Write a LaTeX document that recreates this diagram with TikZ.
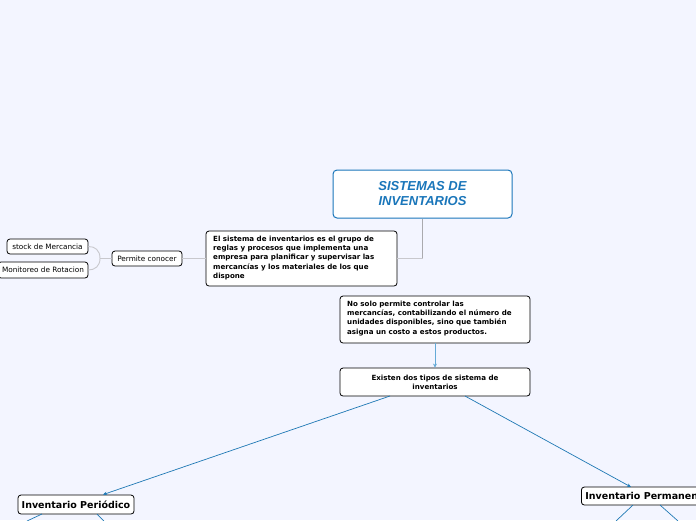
\documentclass[tikz,border=0pt]{standalone}
\usepackage{fontspec}
\setmainfont{DejaVu Sans}
\newfontfamily\titlefont{Liberation Sans}
\usetikzlibrary{arrows.meta}
\definecolor{bg}{RGB}{243,245,255}
\definecolor{mainblue}{RGB}{26,118,186}
\definecolor{linkblue}{RGB}{30,120,180}
\definecolor{arrowblue}{RGB}{100,170,215}
\definecolor{graylink}{RGB}{200,200,205}
\tikzset{
  box/.style={draw=black, fill=white, rounded corners=3pt, line width=0.8pt, inner sep=0pt},
  smalltxt/.style={font=\fontsize{7.1}{9.3}\selectfont\bfseries},
  leaftxt/.style={font=\fontsize{7.3}{8}\selectfont},
  bigtxt/.style={font=\fontsize{9.5}{11}\selectfont\bfseries},
  glink/.style={draw=graylink, line width=0.9pt},
  blink/.style={draw=linkblue, line width=0.7pt, -{Stealth[length=4pt,width=3.5pt]}},
  bline/.style={draw=linkblue, line width=0.7pt},
}
\begin{document}
\begin{tikzpicture}[x=1pt,y=-1pt]
\useasboundingbox (0,0) rectangle (696,520);
\fill[bg] (0,0) rectangle (696,520);
\clip (0,0) rectangle (696,520);

% main title
\node[draw=mainblue, fill=white, rounded corners=4pt, line width=1pt, minimum width=179pt, minimum height=48pt, align=center, text=mainblue, font=\titlefont\fontsize{13}{15}\selectfont\bfseries\itshape] (main) at (422.5,194) {SISTEMAS DE\\INVENTARIOS};

% description
\node[box, minimum width=191pt, minimum height=55pt] (desc) at (301.5,258.5) {};
\node[smalltxt, align=left, anchor=north west, inner sep=0pt] (desct) at (213,235.5) {El sistema de inventarios es el grupo de\\reglas y procesos que implementa una\\empresa para planificar y supervisar las\\mercancías y los materiales de los que\\dispone};

% permite conocer
\node[box, leaftxt, minimum width=70pt, minimum height=15pt] (perm) at (147,258.5) {Permite conocer};
\node[box, leaftxt, minimum width=81pt, minimum height=15pt] (stock) at (47.5,246.5) {stock de Mercancia};
\node[box, leaftxt, minimum width=90pt, minimum height=16pt] (moni) at (43,270) {Monitoreo de Rotacion};

% no solo
\node[box, minimum width=190pt, minimum height=47pt] (nosolo) at (435,319.5) {};
\node[smalltxt, align=left, anchor=north west, inner sep=0pt] (nosolot) at (347,300.5) {No solo permite controlar las\\mercancías, contabilizando el número de\\unidades disponibles, sino que también\\asigna un costo a estos productos.};

% existen
\node[box, smalltxt, align=center, minimum width=190pt, minimum height=28pt] (exist) at (435,382) {Existen dos tipos de sistema de\\inventarios};

% inventarios
\node[box, bigtxt, minimum width=116pt, minimum height=19pt] (peri) at (76,504.5) {Inventario Periódico};
\node[box, bigtxt, anchor=west, minimum height=18pt, inner xsep=4pt] (perma) at (581,496) {Inventario Permanente};

% connectors
\draw[draw=graylink!85!black, line width=1.8pt] (main.south) -- (main.south |- desc.east);
\draw[glink] (main.south |- desc.east) -- (desc.east);
\draw[glink] (desc.west) -- (perm.east);
\coordinate (pj) at (100,258.5);
\draw[glink] (perm.west) -- (pj) .. controls (100,250) and (95,246.5) .. (stock.east);
\draw[glink] (pj) .. controls (100,266) and (95,270) .. (moni.east);

\draw[draw=arrowblue, line width=1pt, -{Stealth[length=4pt,width=4pt]}] (nosolo.south) -- (exist.north);
\draw[blink] (390,396) -- (peri.north -| 103,0);
\draw[blink] (465,396) -- (631,487);

\coordinate (p1) at (27,521);
\coordinate (p2) at (104,521);
\coordinate (p3) at (616,521);
\coordinate (p4) at (678,521);
\draw[bline] (42,514) -- (p1);
\draw[bline] (97,514) -- (p2);
\draw[bline] (633,505) -- (p3);
\draw[bline] (660,505) -- (p4);
\end{tikzpicture}
\end{document}
